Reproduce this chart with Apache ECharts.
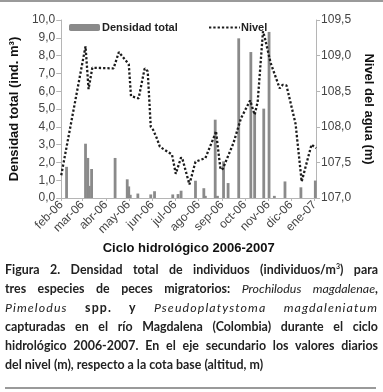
<!DOCTYPE html>
<html>
<head>
<meta charset="utf-8">
<script src="https://cdn.jsdelivr.net/npm/echarts@6/dist/echarts.min.js"></script>
<style>
  html, body { margin: 0; padding: 0; background: #fff; }
  #wrap { position: relative; width: 383px; height: 392px; overflow: hidden; background: #fff; }
  #chart { position: absolute; left: 0; top: 0; width: 383px; height: 392px; }
  #topRule { position: absolute; left: 0; top: 0; width: 383px; height: 2px; background: #9a9a9a; }
  #bottomRule { position: absolute; left: 5px; top: 387px; width: 371px; height: 1.5px; background: #9a9a9a; }
  #caption { position: absolute; left: 5px; top: 260px; width: 373px; font-family: "Lato", "Open Sans", sans-serif; font-size: 12.4px; font-weight: 700; color: #222; line-height: 19px; }
  #caption .l { display: block; white-space: nowrap; text-align: justify; text-align-last: justify; }
  #caption .sp { letter-spacing: 1.1px; }
  #caption .last { display: block; white-space: nowrap; text-align: left; }
  #caption i { font-weight: 400; }
  sup { font-size: 7px; vertical-align: 5px; line-height: 0; }
</style>
</head>
<body>
<div id="wrap">
  <div id="chart"></div>
  <div id="topRule"></div>
  <div id="caption">
    <span class="l">Figura 2. Densidad total de individuos (individuos/m<sup>3</sup>) para</span>
    <span class="l">tres especies de peces migratorios: <i>Prochilodus magdalenae</i>,</span>
    <span class="l sp"><i>Pimelodus</i> spp. y <i>Pseudoplatystoma magdaleniatum</i></span>
    <span class="l">capturadas en el río Magdalena (Colombia) durante el ciclo</span>
    <span class="l">hidrológico 2006-2007. En el eje secundario los valores diarios</span>
    <span class="last">del nivel (m), respecto a la cota base (altitud, m)</span>
  </div>
  <div id="bottomRule"></div>
</div>
<script>
// ---- Data ----
const monthTickDates = ["2006-02-01","2006-03-01","2006-04-01","2006-05-01","2006-06-01","2006-07-01","2006-08-01","2006-09-01","2006-10-01","2006-11-01","2006-12-01","2007-01-01"];
const monthTickLabels = ["feb-06","mar-06","abr-06","may-06","jun-06","jul-06","ago-06","sep-06","oct-06","nov-06","dic-06","ene-07"];

const densityDates = ["2006-02-08","2006-03-05","2006-03-08","2006-03-10","2006-03-13","2006-04-13","2006-04-29","2006-05-01","2006-05-03","2006-05-13","2006-05-30","2006-06-04","2006-06-28","2006-07-05","2006-07-09","2006-07-28","2006-08-08","2006-08-10","2006-08-23","2006-08-26","2006-09-03","2006-09-09","2006-09-23","2006-10-09","2006-10-14","2006-10-26","2006-11-02","2006-11-09","2006-11-23","2006-12-14","2007-01-02"];
const densityValues = [1.75,3.05,2.25,0.68,1.63,2.25,1.05,0.65,0.18,0.25,0.2,0.38,0.2,0.22,0.41,0.97,0.55,0.12,4.4,0.12,2.06,0.84,8.97,8.2,4.8,5.02,9.33,0.12,0.93,0.6,0.98];

const levelDates = ["2006-02-01","2006-03-05","2006-03-09","2006-03-14","2006-04-11","2006-04-18","2006-04-27","2006-05-01","2006-05-04","2006-05-14","2006-05-22","2006-05-26","2006-05-30","2006-06-02","2006-06-07","2006-06-11","2006-06-27","2006-07-02","2006-07-09","2006-07-11","2006-07-20","2006-07-28","2006-08-10","2006-08-23","2006-08-24","2006-08-30","2006-09-02","2006-09-16","2006-09-26","2006-10-08","2006-10-14","2006-10-18","2006-10-25","2006-10-27","2006-11-04","2006-11-16","2006-11-20","2006-11-25","2006-12-07","2006-12-15","2006-12-28","2007-01-03"];
const levelValues = [107.32,109.13,108.53,108.83,108.82,109.05,108.93,108.88,108.43,108.40,108.82,108.78,108.00,107.96,107.84,107.72,107.61,107.34,107.57,107.54,107.19,107.51,107.56,107.90,107.94,107.40,107.41,107.77,108.12,108.37,108.17,108.35,109.34,109.27,108.90,108.54,108.59,108.58,108.04,107.23,107.75,107.70];

// ---- Build ----
const origin = Date.UTC(2006,1,1);
function dayOf(s){ const p = s.split("-").map(Number); return (Date.UTC(p[0],p[1]-1,p[2]) - origin)/864e5; }
const monthDays = monthTickDates.map(dayOf);
const labelMap = {}; monthDays.forEach((d,i)=>labelMap[d]=monthTickLabels[i]);
const barData = densityDates.map((d,i)=>[dayOf(d), densityValues[i]]);
const lineData = levelDates.map((d,i)=>[dayOf(d), levelValues[i]]);
const comma = (v,dec)=> v.toFixed(dec).replace(".", ",");

const chart = echarts.init(document.getElementById("chart"), null, {renderer: "canvas"});
const FONT = "Liberation Sans, Arial, sans-serif";
const axisTxt = {fontFamily: FONT, fontSize: 12, color: "#444"};
const titleTxt = {fontFamily: FONT, fontSize: 13, fontWeight: "bold", color: "#111"};
chart.setOption({
  animation: false,
  textStyle: {fontFamily: FONT},
  grid: {left: 48, right: 59, top: 20, bottom: 194, containLabel: false},
  legend: [
    {data: ["Densidad total"], left: 64, top: 17, itemWidth: 31, itemHeight: 7,
     textStyle: {fontFamily: FONT, fontSize: 11, fontWeight: "bold", color: "#222", padding: [0,0,0,-3]}},
    {data: ["Nivel"], left: 203, top: 17, itemWidth: 31, itemHeight: 7,
     itemStyle: {opacity: 0},
     textStyle: {fontFamily: FONT, fontSize: 11, fontWeight: "bold", color: "#222", padding: [0,0,0,-4]}}
  ],
  xAxis: {
    type: "value", min: 0, max: 336,
    name: "Ciclo hidrológico 2006-2007", nameLocation: "middle", nameGap: 44,
    nameTextStyle: titleTxt,
    axisLine: {show: true, lineStyle: {color: "#b5b5b5", width: 1}},
    axisTick: {show: true, customValues: monthDays, length: 3, lineStyle: {color: "#b5b5b5"}},
    axisLabel: {customValues: monthDays, rotate: 45, margin: 5, formatter: v => labelMap[v] || "", ...axisTxt},
    splitLine: {show: false}
  },
  yAxis: [
    {type: "value", min: 0, max: 10, interval: 1, position: "left",
     name: "Densidad total (ind. m³)", nameLocation: "middle", nameGap: 30, nameRotate: 90,
     nameTextStyle: titleTxt,
     axisLine: {show: true, lineStyle: {color: "#b5b5b5"}},
     axisTick: {show: true, length: 5, lineStyle: {color: "#b5b5b5"}},
     axisLabel: {formatter: v => comma(v,1), margin: 6, ...axisTxt},
     splitLine: {show: false}},
    {type: "value", min: 107, max: 109.5, interval: 0.5, position: "right",
     name: "Nivel del agua (m)", nameLocation: "middle", nameGap: 42, nameRotate: -90,
     nameTextStyle: titleTxt,
     axisLine: {show: true, lineStyle: {color: "#b5b5b5"}},
     axisTick: {show: true, length: 4, lineStyle: {color: "#b5b5b5"}},
     axisLabel: {formatter: v => comma(v,1), margin: 5, ...axisTxt},
     splitLine: {show: false}}
  ],
  series: [
    {name: "Densidad total", type: "bar", yAxisIndex: 0, data: barData, barWidth: 2.8,
     itemStyle: {color: "#8a8a8a"}},
    {name: "Nivel", type: "line", yAxisIndex: 1, data: lineData, symbol: "none", showSymbol: false,
     lineStyle: {color: "#1c1c1c", width: 2.3, type: [2.3, 2]}, itemStyle: {color: "#1c1c1c"}}
  ]
});
</script>
</body>
</html>
